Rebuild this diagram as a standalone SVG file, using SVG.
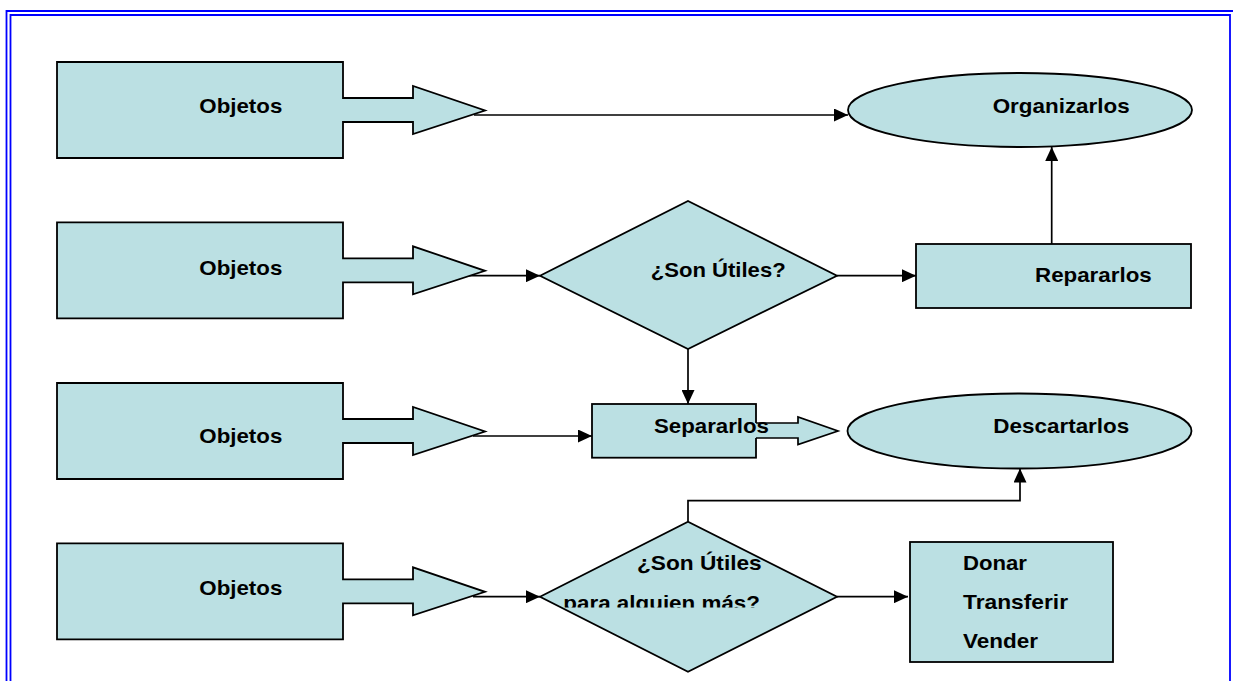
<svg xmlns="http://www.w3.org/2000/svg" width="1233" height="681" viewBox="0 0 1233 681">
  <style>
    .shape { fill: #bbe0e3; stroke: #000; stroke-width: 1.8; stroke-linejoin: miter; }
    .lbl { font-family: "Liberation Sans", Arial, sans-serif; font-weight: bold; font-size: 21px; fill: #000; }
    .conn { fill: none; stroke: #000; stroke-width: 1.7; }
    .frame { fill: none; stroke: #0000ff; stroke-width: 1.8; }
  </style>
  <defs>
    <marker id="arrow" viewBox="0 0 14 13" refX="14" refY="6.5" markerWidth="14" markerHeight="13" markerUnits="userSpaceOnUse" orient="auto">
      <path d="M0,0 L14,6.5 L0,13 Z" fill="#000"/>
    </marker>
    <path id="callout" d="M0,0 H286 V36 H356 V24 L428,48.5 L356,72 V60 H286 V96 H0 Z"/>
    <clipPath id="cutLine">
      <rect x="540" y="520" width="300" height="87.5"/>
    </clipPath>
  </defs>

  <!-- page frame (double blue rule) -->
  <g id="frame">
    <path class="frame" d="M6.5,690 V11 H1240"/>
    <path class="frame" d="M10.5,690 V15 H1230 V690"/>
  </g>

  <!-- connectors -->
  <g id="connectors">
    <path class="conn" d="M474,115 H848" marker-end="url(#arrow)"/>
    <path class="conn" d="M463,275.7 H540" marker-end="url(#arrow)"/>
    <path class="conn" d="M837,275.7 H916" marker-end="url(#arrow)"/>
    <path class="conn" d="M1051.7,244 V147" marker-end="url(#arrow)"/>
    <path class="conn" d="M688,349 V404" marker-end="url(#arrow)"/>
    <path class="conn" d="M473,436 H592" marker-end="url(#arrow)"/>
    <path class="conn" d="M473,596.7 H540" marker-end="url(#arrow)"/>
    <path class="conn" d="M837,596.7 H908" marker-end="url(#arrow)"/>
    <path class="conn" d="M688,521.7 V500.7 H1020 V468.5" marker-end="url(#arrow)"/>
  </g>

  <!-- sources -->
  <g id="objetos1">
    <use href="#callout" class="shape" transform="translate(57,62)"/>
    <text class="lbl" x="199.3" y="112.7" textLength="83" lengthAdjust="spacingAndGlyphs">Objetos</text>
  </g>
  <g id="objetos2">
    <use href="#callout" class="shape" transform="translate(57,222.3)"/>
    <text class="lbl" x="199.3" y="274.5" textLength="83" lengthAdjust="spacingAndGlyphs">Objetos</text>
  </g>
  <g id="objetos3">
    <use href="#callout" class="shape" transform="translate(57,383)"/>
    <text class="lbl" x="199.3" y="443" textLength="83" lengthAdjust="spacingAndGlyphs">Objetos</text>
  </g>
  <g id="objetos4">
    <use href="#callout" class="shape" transform="translate(57,543.3)"/>
    <text class="lbl" x="199.3" y="595" textLength="83" lengthAdjust="spacingAndGlyphs">Objetos</text>
  </g>

  <!-- outcomes -->
  <g id="organizarlos">
    <ellipse class="shape" cx="1020" cy="110" rx="172" ry="37"/>
    <text class="lbl" x="992.7" y="113" textLength="137" lengthAdjust="spacingAndGlyphs">Organizarlos</text>
  </g>

  <g id="son-utiles">
    <polygon class="shape" points="540,275.7 688,201 837,275.7 688,349"/>
    <text class="lbl" x="650.7" y="277.3" textLength="135" lengthAdjust="spacingAndGlyphs">¿Son Útiles?</text>
  </g>

  <g id="repararlos">
    <rect class="shape" x="916" y="244" width="275" height="64"/>
    <text class="lbl" x="1035" y="281.7" textLength="116.7" lengthAdjust="spacingAndGlyphs">Repararlos</text>
  </g>

  <g id="separarlos">
    <rect class="shape" x="592" y="404" width="164" height="53.7"/>
    <path d="M750,423 H798 V417 L838,431 L798,444.5 V438 H750 Z" fill="#bbe0e3"/>
    <path class="conn" d="M756,423 H798 V417 L838,431 L798,444.5 V438 H756"/>
    <text class="lbl" x="654" y="433" textLength="115" lengthAdjust="spacingAndGlyphs">Separarlos</text>
  </g>

  <g id="descartarlos">
    <ellipse class="shape" cx="1019.5" cy="431" rx="172" ry="37.5"/>
    <text class="lbl" x="993.3" y="433.3" textLength="136" lengthAdjust="spacingAndGlyphs">Descartarlos</text>
  </g>

  <g id="utiles-otros">
    <polygon class="shape" points="540,596.7 688,521.7 837,596.7 688,671.7"/>
    <text class="lbl" x="637" y="570" textLength="124.7" lengthAdjust="spacingAndGlyphs">¿Son Útiles</text>
    <text class="lbl" x="563.3" y="609.5" textLength="196.7" lengthAdjust="spacingAndGlyphs" clip-path="url(#cutLine)">para alguien más?</text>
  </g>

  <g id="donar">
    <rect class="shape" x="910" y="542" width="203" height="120"/>
    <text class="lbl" x="963" y="570" textLength="64" lengthAdjust="spacingAndGlyphs">Donar</text>
    <text class="lbl" x="963" y="609" textLength="105" lengthAdjust="spacingAndGlyphs">Transferir</text>
    <text class="lbl" x="963" y="648" textLength="75" lengthAdjust="spacingAndGlyphs">Vender</text>
  </g>
</svg>
